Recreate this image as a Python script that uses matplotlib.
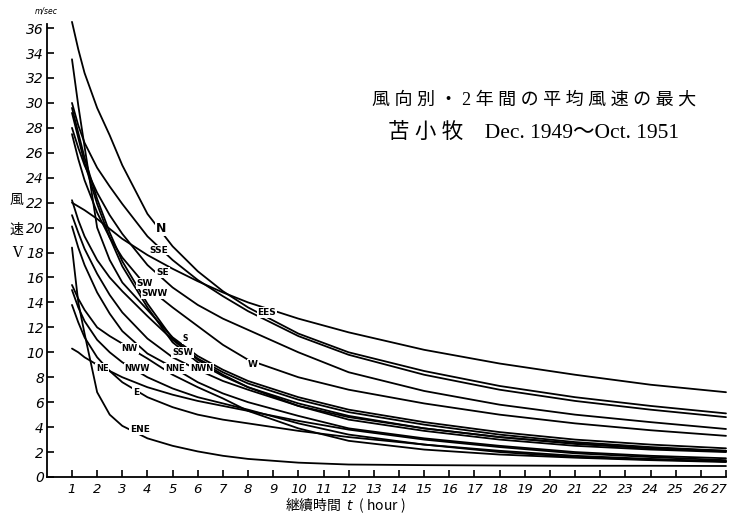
import matplotlib.pyplot as plt
import matplotlib.transforms as mtransforms
import numpy as np

# hours after the peak
hours = [1, 1.25, 1.5, 2, 2.5, 3, 4, 5, 6, 7, 8, 10, 12, 15, 18, 21, 24, 27]

# mean wind speed (m/sec) for each wind direction
v_N   = [36.5, 34.3, 32.4, 29.6, 27.4, 25.0, 21.1, 18.5, 16.5, 14.9, 13.6, 11.5, 10.0, 8.5, 7.3, 6.4, 5.7, 5.1]
v_SSE = [30.0, 28.2, 26.8, 24.8, 23.3, 21.9, 19.3, 17.4, 15.8, 14.5, 13.3, 11.3, 9.8, 8.2, 7.0, 6.1, 5.4, 4.8]
v_EES = [22.0, 21.7, 21.4, 20.7, 19.9, 19.1, 17.8, 16.7, 15.7, 14.8, 14.0, 12.7, 11.6, 10.2, 9.1, 8.2, 7.4, 6.8]
v_SE  = [28.0, 26.4, 25.0, 22.8, 21.0, 19.5, 17.0, 15.2, 13.8, 12.7, 11.8, 10.0, 8.4, 6.9, 5.8, 5.0, 4.4, 3.85]
v_W   = [27.5, 25.5, 23.8, 21.2, 19.2, 17.6, 15.2, 13.6, 12.1, 10.6, 9.4, 8.0, 7.0, 5.9, 5.0, 4.3, 3.75, 3.3]
v_SW  = [33.5, 29.8, 26.5, 20.0, 17.4, 15.6, 13.4, 11.2, 9.7, 8.6, 7.7, 6.4, 5.4, 4.4, 3.6, 3.0, 2.6, 2.3]
v_S   = [29.6, 27.6, 25.6, 22.3, 19.6, 17.3, 13.9, 11.1, 9.5, 8.4, 7.5, 6.2, 5.2, 4.2, 3.4, 2.8, 2.4, 2.1]
v_SSW = [29.2, 27.2, 25.2, 21.9, 19.2, 16.9, 13.6, 10.8, 9.2, 8.1, 7.2, 5.9, 4.9, 3.9, 3.2, 2.65, 2.3, 2.05]
v_SWW = [22.2, 20.6, 19.3, 17.4, 16.0, 14.9, 12.9, 11.0, 9.4, 8.2, 7.2, 5.7, 4.6, 3.7, 3.0, 2.5, 2.2, 2.0]
v_NWN = [21.0, 19.6, 18.3, 16.3, 14.6, 13.2, 11.1, 9.6, 8.6, 7.7, 7.0, 5.7, 4.8, 3.9, 3.2, 2.7, 2.3, 2.1]
v_NNE = [20.1, 18.4, 17.0, 14.8, 13.1, 11.7, 9.9, 8.8, 7.6, 6.7, 6.0, 4.9, 3.9, 3.1, 2.5, 2.0, 1.7, 1.5]
v_NW  = [15.4, 14.3, 13.4, 12.0, 11.3, 10.7, 9.5, 8.2, 7.2, 6.3, 5.3, 3.9, 2.9, 2.2, 1.8, 1.55, 1.35, 1.2]
v_NWW = [15.0, 13.6, 12.5, 11.0, 10.0, 9.2, 8.0, 7.1, 6.4, 5.9, 5.4, 4.3, 3.4, 2.6, 2.0, 1.6, 1.4, 1.25]
v_NE  = [10.3, 10.0, 9.6, 9.0, 8.5, 8.0, 7.2, 6.6, 6.1, 5.7, 5.3, 4.5, 3.8, 3.0, 2.4, 1.9, 1.6, 1.35]
v_E   = [13.8, 12.4, 11.2, 9.6, 8.5, 7.6, 6.4, 5.6, 5.0, 4.6, 4.3, 3.7, 3.2, 2.6, 2.1, 1.7, 1.45, 1.25]
v_ENE = [18.4, 14.0, 11.5, 6.8, 5.0, 4.1, 3.1, 2.5, 2.05, 1.7, 1.45, 1.15, 1.0, 0.95, 0.92, 0.9, 0.9, 0.88]

# curve name, speeds, label position (hour, m/sec), label size
curves = [
    ('N',   v_N,   (4.55, 19.9), 9),
    ('SSE', v_SSE, (4.45, 18.2), 6.5),
    ('EES', v_EES, (8.75, 13.2), 6.5),
    ('SE',  v_SE,  (4.6, 16.4), 6.5),
    ('W',   v_W,   (8.2, 9.0), 6.5),
    ('SW',  v_SW,  (3.9, 15.5), 6.5),
    ('S',   v_S,   (5.5, 11.1), 5.5),
    ('SSW', v_SSW, (5.4, 10.0), 6),
    ('SWW', v_SWW, (4.3, 14.7), 6.5),
    ('NWN', v_NWN, (6.15, 8.7), 6),
    ('NNE', v_NNE, (5.1, 8.7), 6),
    ('NW',  v_NW,  (3.3, 10.3), 6),
    ('NWW', v_NWW, (3.6, 8.7), 6),
    ('NE',  v_NE,  (2.2, 8.7), 6),
    ('E',   v_E,   (3.55, 6.8), 6.5),
    ('ENE', v_ENE, (3.7, 3.8), 6.5),
]

fig = plt.figure(figsize=(7.34, 5.14), dpi=100)
ax = fig.add_axes([0.0638, 0.072, 0.927, 0.9097])

for name, speeds, (lx, ly), fs in curves:
    ax.plot(hours, speeds, color='black', lw=1.3, solid_capstyle='round', zorder=2)
    ax.text(lx, ly, name, fontsize=fs, fontweight='semibold', ha='center', va='center',
            bbox=dict(fc='white', ec='none', pad=0.6), zorder=3)

ax.set_xlim(0, 27.05)
ax.set_ylim(0, 37.5)
ax.spines['top'].set_visible(False)
ax.spines['right'].set_visible(False)
ax.spines['left'].set_bounds(0, 36.3)
ax.spines['bottom'].set_bounds(0, 27)
for sp in ax.spines.values():
    sp.set_linewidth(1.3)

ax.set_xticks(range(1, 28))
ax.set_xticklabels([str(h) for h in range(1, 28)], fontsize=9.5, style='italic')
ax.set_yticks(range(0, 37, 2))
ax.set_yticklabels([str(v) for v in range(0, 37, 2)], fontsize=10, style='italic')
ax.tick_params(axis='x', direction='in', length=5, width=1.2, pad=4)
ax.tick_params(axis='y', direction='in', length=5, width=1.2, pad=2)

# nudge the last hour label inside the figure
last = ax.get_xticklabels()[-1]
last.set_transform(last.get_transform() +
                   mtransforms.ScaledTranslation(-5 / 72, 0, fig.dpi_scale_trans))

fig.text(0.063, 0.978, 'm/sec', fontsize=5.5, style='italic', ha='center', va='center')

# vertical axis title
cjk = ['Noto Sans CJK JP', 'DejaVu Sans']
fig.text(0.023, 0.61, '風', fontsize=10, family=cjk, ha='center', va='center')
fig.text(0.023, 0.553, '速', fontsize=10, family=cjk, ha='center', va='center')
fig.text(0.023, 0.508, 'V', fontsize=10, family='DejaVu Serif', ha='center', va='center')

fig.text(0.47, 0.018, '継續時間  $t$  ( hour )', fontsize=10, family=cjk, ha='center', va='center')

serif_cjk = ['Liberation Serif', 'Noto Sans CJK JP']
fig.text(0.727, 0.805, '風 向 別 ・ 2 年 間 の 平 均 風 速 の 最 大', fontsize=13,
         family=serif_cjk, ha='center', va='center')
fig.text(0.7275, 0.741, '苫 小 牧    Dec. 1949～Oct. 1951', fontsize=15.5, family=serif_cjk,
         ha='center', va='center')

fig.savefig('out.png', dpi=100, facecolor='white')
